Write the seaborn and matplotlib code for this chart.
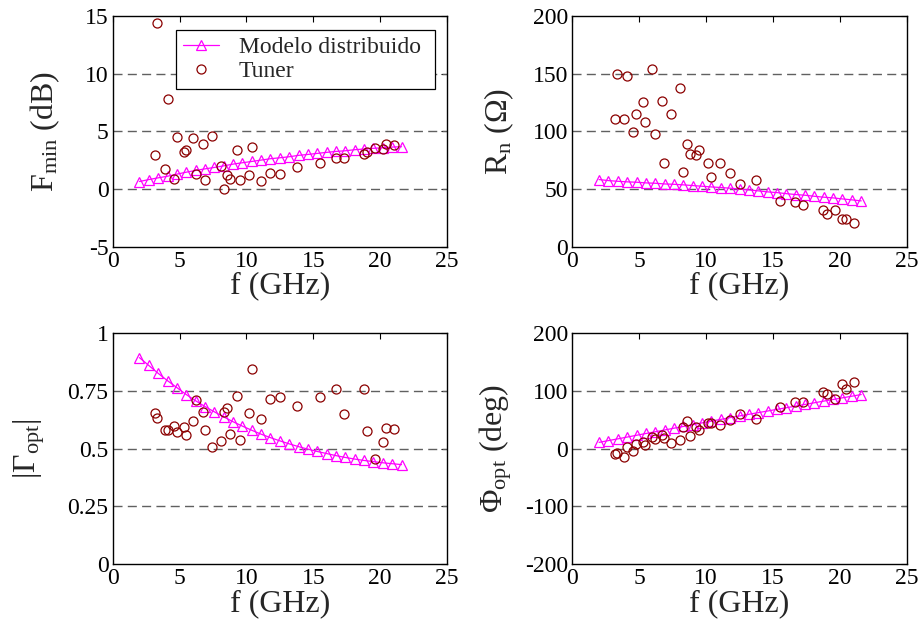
import numpy as np
import pandas as pd
import matplotlib
matplotlib.use("Agg")
import matplotlib.pyplot as plt
import seaborn as sns

# Frequencies (GHz)
f_model = [2.0, 2.7, 3.4, 4.1, 4.8, 5.5, 6.2, 6.9, 7.6, 8.3, 9.0, 9.7, 10.4, 11.1,
           11.8, 12.5, 13.2, 13.9, 14.6, 15.3, 16.0, 16.7, 17.4, 18.1, 18.8, 19.5,
           20.2, 20.9, 21.6]
f_tuner = [3.2, 3.35, 3.88, 4.1, 4.55, 4.78, 5.3, 5.45, 5.97, 6.2, 6.72, 6.88, 7.4,
           8.07, 8.3, 8.57, 8.8, 9.27, 9.5, 10.17, 10.4, 11.07, 11.8, 12.5, 13.76,
           15.52, 16.68, 17.28, 18.76, 19.04, 19.65, 20.19, 20.47, 21.04]

# Minimum noise figure (dB)
fmin_model = [0.64, 0.81, 0.96, 1.10, 1.28, 1.45, 1.60, 1.74, 1.86, 2.00, 2.15, 2.27,
              2.38, 2.50, 2.62, 2.70, 2.79, 2.91, 2.99, 3.08, 3.17, 3.25, 3.31, 3.40,
              3.46, 3.52, 3.57, 3.63, 3.66]
fmin_tuner = [2.91, 14.42, 1.75, 7.84, 0.89, 4.47, 3.20, 3.34, 4.38, 1.32, 3.92, 0.74,
              4.55, 1.96, 0.0, 1.18, 0.86, 3.34, 0.74, 1.23, 3.60, 0.66, 1.38, 1.26,
              1.87, 2.27, 2.65, 2.71, 3.05, 3.22, 3.54, 3.48, 3.89, 3.77]

# Equivalent noise resistance (Ohm)
rn_model = [58.1, 57.2, 56.6, 56.1, 55.8, 55.2, 54.9, 54.3, 54.0, 53.5, 52.9, 52.3,
            51.7, 51.2, 50.6, 50.0, 49.1, 48.3, 47.4, 46.8, 45.9, 45.1, 44.5, 43.6,
            42.8, 42.2, 41.3, 40.5, 39.6]
rn_tuner = [110.9, 150.1, 110.9, 148.1, 99.7, 115.3, 125.1, 107.8, 154.2, 98.0, 125.9,
            72.3, 114.7, 137.2, 64.5, 89.3, 80.4, 79.0, 83.6, 72.3, 60.2, 72.3, 63.7,
            54.2, 57.6, 39.5, 38.3, 36.0, 32.0, 28.2, 31.7, 23.9, 23.9, 20.7]

# Optimum reflection coefficient magnitude
gopt_model = [0.895, 0.861, 0.827, 0.795, 0.765, 0.735, 0.708, 0.683, 0.660, 0.638,
              0.617, 0.598, 0.580, 0.563, 0.548, 0.534, 0.521, 0.509, 0.498, 0.488,
              0.479, 0.470, 0.462, 0.455, 0.449, 0.444, 0.439, 0.435, 0.431]
gopt_tuner = [0.655, 0.632, 0.579, 0.579, 0.598, 0.571, 0.594, 0.559, 0.620, 0.710,
              0.659, 0.579, 0.507, 0.533, 0.659, 0.676, 0.564, 0.728, 0.538, 0.655,
              0.844, 0.629, 0.715, 0.723, 0.684, 0.723, 0.757, 0.649, 0.757, 0.577,
              0.455, 0.529, 0.590, 0.584]

# Optimum reflection coefficient phase (deg)
phi_model = [11.0, 14.1, 17.1, 20.2, 23.3, 26.4, 29.4, 32.5, 35.6, 38.6, 41.7, 44.8,
             47.9, 50.9, 54.0, 56.9, 59.7, 62.6, 65.4, 68.3, 71.1, 74.0, 76.9, 79.7,
             82.6, 85.4, 88.3, 91.1, 94.0]
phi_tuner = [-9.8, -8.1, -15.0, 2.3, -4.0, 7.5, 11.6, 6.9, 20.2, 17.3, 23.7, 17.9,
             10.4, 14.5, 37.0, 48.0, 21.4, 37.6, 31.8, 43.9, 43.9, 41.6, 50.3, 59.5,
             50.9, 72.8, 80.3, 80.3, 97.7, 95.4, 86.1, 111.6, 104.0, 115.6]

x_ticks = [0, 5, 10, 15, 20, 25]
panels = [
    (fmin_model, fmin_tuner, r"F$_{\mathrm{min}}$ (dB)", (-5, 15),
     [-5, 0, 5, 10, 15], ["-5", "0", "5", "10", "15"], 16.8),
    (rn_model, rn_tuner, r"R$_{\mathrm{n}}$ ($\Omega$)", (0, 200),
     [0, 50, 100, 150, 200], ["0", "50", "100", "150", "200"], 11.8),
    (gopt_model, gopt_tuner, r"|$\Gamma_{\mathrm{opt}}$|", (0, 1),
     [0, 0.25, 0.5, 0.75, 1], ["0", "0.25", "0.5", "0.75", "1"], 14.6),
    (phi_model, phi_tuner, r"$\Phi_{\mathrm{opt}}$ (deg)", (-200, 200),
     [-200, -100, 0, 100, 200], ["-200", "-100", "0", "100", "200"], 8.2),
]

sns.set_theme(style="white")
plt.rcParams["font.family"] = ["Liberation Serif", "DejaVu Serif"]
plt.rcParams["mathtext.fontset"] = "custom"
plt.rcParams["mathtext.rm"] = "Liberation Serif"
plt.rcParams["mathtext.it"] = "Liberation Serif:italic"
plt.rcParams["mathtext.bf"] = "Liberation Serif:bold"

MAGENTA = "#FF00FF"
DARKRED = "#8B0000"
GRID = "#606060"

fig, axes = plt.subplots(2, 2, figsize=(9.2, 6.3), dpi=100)
fig.subplots_adjust(left=0.1225, right=0.9855, top=0.9746, bottom=0.1048,
                    wspace=0.375, hspace=0.377)

for ax, (ym, yt, ylabel, ylim, yticks, ylabels, lpad) in zip(axes.flat, panels):
    dm = pd.DataFrame({"f": f_model, "v": ym})
    dt = pd.DataFrame({"f": f_tuner, "v": yt})
    sns.lineplot(data=dm, x="f", y="v", ax=ax, color=MAGENTA, lw=0.9,
                 marker="^", markersize=7, markerfacecolor="none",
                 markeredgecolor=MAGENTA, markeredgewidth=0.9,
                 estimator=None, sort=False, label="Modelo distribuido")
    sns.lineplot(data=dt, x="f", y="v", ax=ax, color=DARKRED, linestyle="none",
                 marker="o", markersize=6.5, markerfacecolor="none",
                 markeredgecolor=DARKRED, markeredgewidth=0.9,
                 estimator=None, sort=False, label="Tuner")
    ax.set_xlim(0, 25)
    ax.set_ylim(*ylim)
    ax.set_xticks(x_ticks)
    ax.set_xticklabels([str(t) for t in x_ticks])
    ax.set_yticks(yticks)
    ax.set_yticklabels(ylabels)
    for v in yticks[1:-1]:
        ax.axhline(v, color=GRID, lw=1.0, linestyle=(0, (6.5, 3.8)), zorder=1)
    ax.tick_params(direction="in", length=4, width=0.8, top=True, right=True,
                   labelsize=17, pad=3, colors="black")
    for s in ax.spines.values():
        s.set_color("black")
        s.set_linewidth(1.0)
        s.set_visible(True)
    ax.set_xlabel("f (GHz)", fontsize=23, labelpad=0)
    ax.set_ylabel(ylabel, fontsize=23, labelpad=lpad)
    leg = ax.get_legend()
    if leg is not None:
        leg.remove()

leg = axes[0, 0].legend(loc="upper left", bbox_to_anchor=(0.19, 0.684, 0.773, 0.256),
                        mode="expand", fontsize=17, frameon=True, fancybox=False,
                        framealpha=1, edgecolor="black", handlelength=1.5,
                        handletextpad=0.85, borderpad=0.3, labelspacing=0.1,
                        borderaxespad=0)
leg.get_frame().set_linewidth(0.9)

fig.savefig("out.png", dpi=100)
